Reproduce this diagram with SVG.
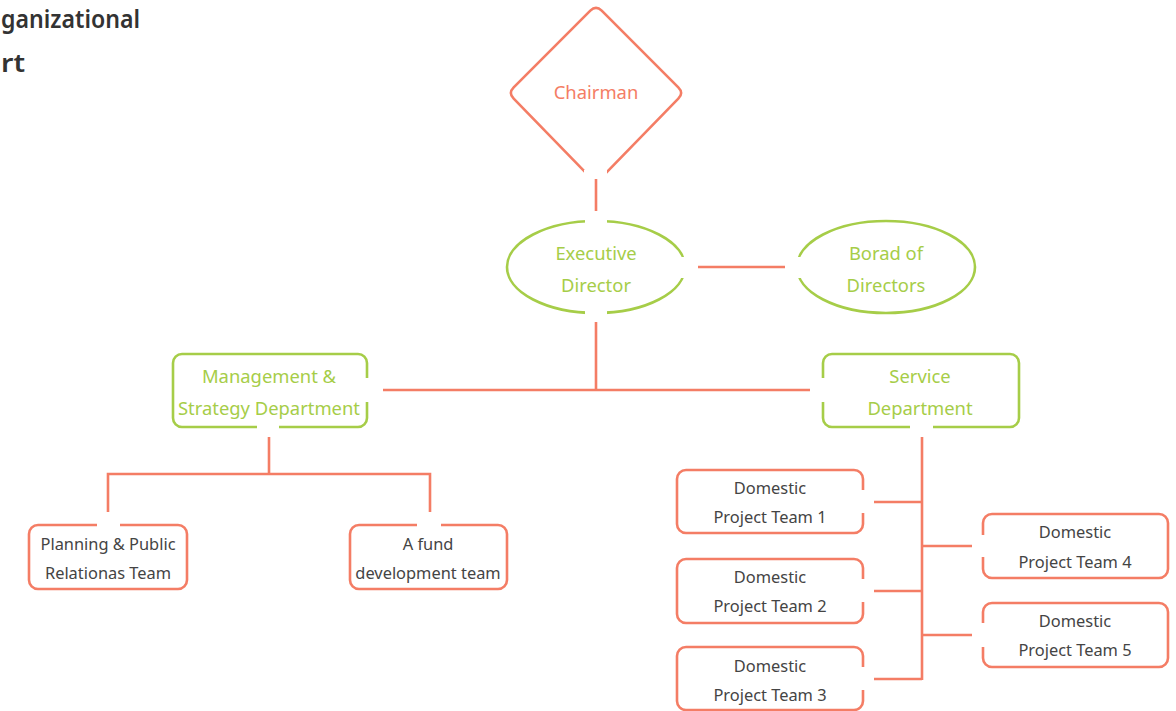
<svg xmlns="http://www.w3.org/2000/svg" width="1176" height="711" viewBox="0 0 1176 711">
<style>
.bg{fill:#ffffff}
.o{fill:none;stroke:#f47d65;stroke-width:2.6}
.g{fill:none;stroke:#a6cd48;stroke-width:2.6}
.gap{fill:#ffffff;stroke:none}
.c{fill:none;stroke:#f47d65;stroke-width:2.6}
text{font-family:"Noto Sans","Open Sans","Liberation Sans",sans-serif;text-anchor:middle;dominant-baseline:central}
.tg{fill:#a6cd48;font-size:18.4px}
.to{fill:#f47d65;font-size:18.4px}
.td{fill:#444444;font-size:16.4px}
.title{fill:#333333;font-size:25px;font-weight:600;text-anchor:start;dominant-baseline:auto}
</style>
<rect class="bg" x="0" y="0" width="1176" height="711"/>
<g id="title">
<text class="title" x="1" y="28" textLength="139" lengthAdjust="spacingAndGlyphs">ganizational</text>
<text class="title" x="1" y="72" textLength="24" lengthAdjust="spacingAndGlyphs">rt</text>
</g>
<g id="chairman">
<path class="o" d="M590.3,10.7 Q596,5 601.7,10.7 L678.3,87.3 Q684,93 678.3,98.7 L601.7,177.3 Q596,183 590.3,177.3 L513.7,98.7 Q508,93 513.7,87.3 Z"/>
<rect class="gap" x="584" y="170" width="23" height="16"/>
<text class="to" x="596" y="91">Chairman</text>
</g>
<g id="executive">
<ellipse class="g" cx="596" cy="267" rx="89" ry="46"/>
<rect class="gap" x="585" y="216" width="22" height="10"/>
<rect class="gap" x="585" y="308" width="22" height="10"/>
<rect class="gap" x="678" y="257" width="14" height="21"/>
<text class="tg" x="596" y="252">Executive</text>
<text class="tg" x="596" y="284">Director</text>
</g>
<g id="board">
<ellipse class="g" cx="886" cy="267" rx="89" ry="46"/>
<rect class="gap" x="792" y="257" width="14" height="21"/>
<text class="tg" x="886" y="252">Borad of</text>
<text class="tg" x="886" y="284">Directors</text>
</g>
<g id="management">
<rect class="g" x="173" y="354" width="194" height="73" rx="9"/>
<rect class="gap" x="361" y="378" width="12" height="24"/>
<rect class="gap" x="257" y="421" width="22" height="12"/>
<text class="tg" x="269" y="375">Management &amp;</text>
<text class="tg" x="269" y="407">Strategy Department</text>
</g>
<g id="service">
<rect class="g" x="823" y="354" width="196" height="73" rx="9"/>
<rect class="gap" x="817" y="378" width="12" height="24"/>
<rect class="gap" x="910" y="421" width="23" height="12"/>
<text class="tg" x="920" y="375">Service</text>
<text class="tg" x="920" y="407">Department</text>
</g>
<g id="planning">
<rect class="o" x="29" y="525" width="158" height="64" rx="9"/>
<rect class="gap" x="97" y="519" width="23" height="12"/>
<text class="td" x="108" y="543">Planning &amp; Public</text>
<text class="td" x="108" y="572">Relationas Team</text>
</g>
<g id="fund">
<rect class="o" x="350" y="525" width="157" height="64" rx="9"/>
<rect class="gap" x="417" y="519" width="24" height="12"/>
<text class="td" x="428" y="543">A fund</text>
<text class="td" x="428" y="572">development team</text>
</g>
<g id="team1">
<rect class="o" x="677" y="470" width="186" height="63" rx="9"/>
<rect class="gap" x="857" y="490" width="12" height="23"/>
<text class="td" x="770" y="487">Domestic</text>
<text class="td" x="770" y="516">Project Team 1</text>
</g>
<g id="team2">
<rect class="o" x="677" y="559" width="186" height="64" rx="9"/>
<rect class="gap" x="857" y="579" width="12" height="23"/>
<text class="td" x="770" y="576">Domestic</text>
<text class="td" x="770" y="605">Project Team 2</text>
</g>
<g id="team3">
<rect class="o" x="677" y="647" width="186" height="63" rx="9"/>
<rect class="gap" x="857" y="667" width="12" height="23"/>
<text class="td" x="770" y="665">Domestic</text>
<text class="td" x="770" y="694">Project Team 3</text>
</g>
<g id="team4">
<rect class="o" x="983" y="514" width="185" height="64" rx="9"/>
<rect class="gap" x="977" y="535" width="12" height="22"/>
<text class="td" x="1075" y="531">Domestic</text>
<text class="td" x="1075" y="561">Project Team 4</text>
</g>
<g id="team5">
<rect class="o" x="983" y="603" width="185" height="64" rx="9"/>
<rect class="gap" x="977" y="623" width="12" height="24"/>
<text class="td" x="1075" y="620">Domestic</text>
<text class="td" x="1075" y="649">Project Team 5</text>
</g>
<g id="connectors">
<path class="c" d="M596,179 V211"/>
<path class="c" d="M698,267 H785"/>
<path class="c" d="M596,322 V390"/>
<path class="c" d="M383,390 H810"/>
<path class="c" d="M269,437 V474"/>
<path class="c" d="M108,512 V474 H430 V512"/>
<path class="c" d="M922,437 V680"/>
<path class="c" d="M874,502 H922"/>
<path class="c" d="M874,591 H922"/>
<path class="c" d="M874,679 H922"/>
<path class="c" d="M922,546 H972"/>
<path class="c" d="M922,635 H972"/>
</g>
</svg>
